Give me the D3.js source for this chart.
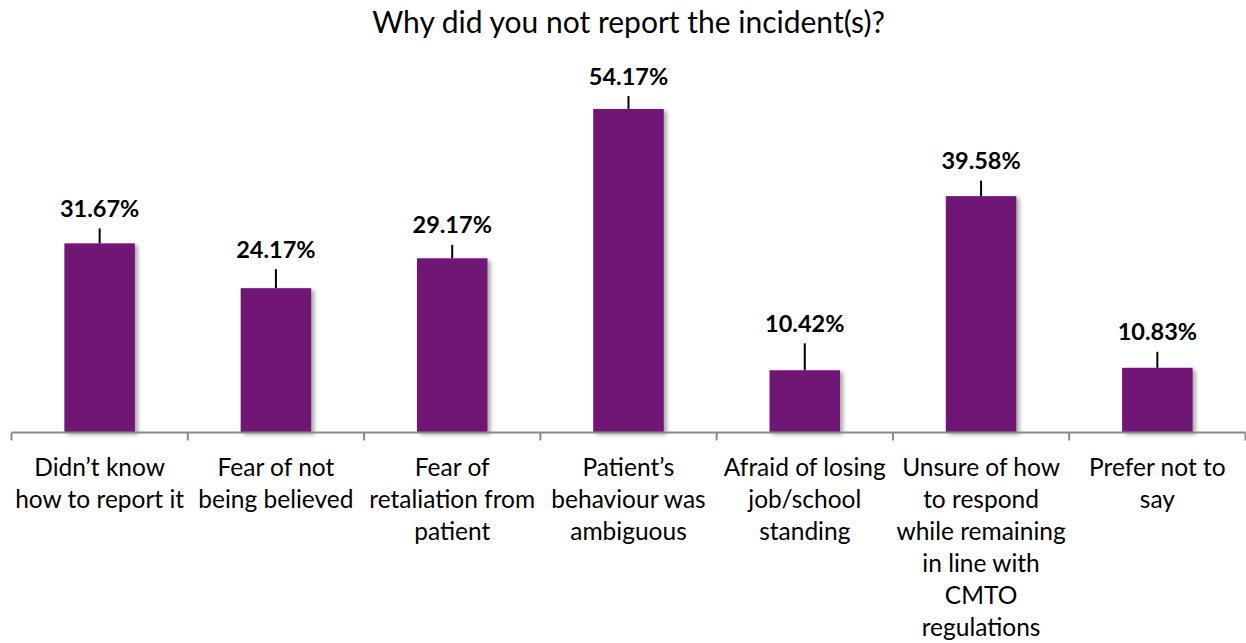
<!DOCTYPE html>
<html>
<head>
<meta charset="utf-8">
<script src="https://cdn.jsdelivr.net/npm/d3@7"></script>
<style>
  body { margin: 0; background: #ffffff; }
  svg text { font-family: Lato, "Open Sans", sans-serif; fill: #000; }
</style>
</head>
<body>
<svg id="chart" width="1246" height="643"></svg>
<script>
// Survey responses: reasons for not reporting
const categories = [
  "Didn’t know how to report it",
  "Fear of not being believed",
  "Fear of retaliation from patient",
  "Patient’s behaviour was ambiguous",
  "Afraid of losing job/school standing",
  "Unsure of how to respond while remaining in line with CMTO regulations",
  "Prefer not to say"
];
const categoryLines = [
  ["Didn’t know", "how to report it"],
  ["Fear of not", "being believed"],
  ["Fear of", "retaliation from", "patient"],
  ["Patient’s", "behaviour was", "ambiguous"],
  ["Afraid of losing", "job/school", "standing"],
  ["Unsure of how", "to respond", "while remaining", "in line with", "CMTO", "regulations"],
  ["Prefer not to", "say"]
];
const values = [31.67, 24.17, 29.17, 54.17, 10.42, 39.58, 10.83];
const valueLabels = ["31.67%", "24.17%", "29.17%", "54.17%", "10.42%", "39.58%", "10.83%"];
// length of the leader line above each bar (labels were placed by hand)
const leaderLengths = [15, 19, 13.5, 13, 27, 15.5, 16];

const title = "Why did you not report the incident(s)?";

const svg = d3.select("#chart");
const plot = { left: 11.5, right: 1245.5, top: 74.2, bottom: 432.5 };

const x = d3.scaleBand()
  .domain(categories)
  .range([plot.left, plot.right])
  .paddingInner(0.6)
  .paddingOuter(0.3);

const y = d3.scaleLinear().domain([0, 60]).range([plot.bottom, plot.top]);

// soft drop shadow under the bars
const defs = svg.append("defs");
const f = defs.append("filter").attr("id", "barShadow")
  .attr("x", "-20%").attr("y", "-10%").attr("width", "150%").attr("height", "130%");
f.append("feDropShadow")
  .attr("dx", 3).attr("dy", 2).attr("stdDeviation", 2)
  .attr("flood-color", "#000").attr("flood-opacity", 0.35);

// title
svg.append("text")
  .attr("x", (plot.left + plot.right) / 2)
  .attr("y", 33)
  .attr("text-anchor", "middle")
  .style("font-size", "30px")
  .text(title);

// bars
svg.append("g").selectAll("rect")
  .data(values)
  .join("rect")
  .attr("x", (d, i) => x(categories[i]))
  .attr("y", d => y(d))
  .attr("width", x.bandwidth())
  .attr("height", d => y(0) - y(d))
  .attr("fill", "#6f1574")
  .attr("filter", "url(#barShadow)");

// leader lines
svg.append("g").selectAll("line")
  .data(values)
  .join("line")
  .attr("x1", (d, i) => x(categories[i]) + x.bandwidth() / 2)
  .attr("x2", (d, i) => x(categories[i]) + x.bandwidth() / 2)
  .attr("y1", d => y(d))
  .attr("y2", (d, i) => y(d) - leaderLengths[i])
  .attr("stroke", "#000")
  .attr("stroke-width", 2);

// value labels
svg.append("g").selectAll("text")
  .data(values)
  .join("text")
  .attr("x", (d, i) => x(categories[i]) + x.bandwidth() / 2)
  .attr("y", (d, i) => y(d) - leaderLengths[i] - 11.5)
  .attr("text-anchor", "middle")
  .style("font-size", "23.5px")
  .style("font-weight", "bold")
  .text((d, i) => valueLabels[i]);

// category axis: boundaries between categories, tick marks below
const step = x.step();
const boundaries = d3.range(categories.length + 1).map(i => plot.left + i * step);
const axis = svg.append("g");
axis.append("line")
  .attr("x1", plot.left).attr("x2", plot.right)
  .attr("y1", plot.bottom).attr("y2", plot.bottom)
  .attr("stroke", "#898989").attr("stroke-width", 2);
axis.selectAll("line.tick")
  .data(boundaries)
  .join("line")
  .attr("class", "tick")
  .attr("x1", d => d).attr("x2", d => d)
  .attr("y1", plot.bottom).attr("y2", plot.bottom + 8)
  .attr("stroke", "#898989").attr("stroke-width", 2);

// wrapped category labels
const labels = svg.append("g").selectAll("text")
  .data(categoryLines)
  .join("text")
  .attr("text-anchor", "middle")
  .style("font-size", "24.5px");
labels.each(function (lines, i) {
  const cx = x(categories[i]) + x.bandwidth() / 2;
  d3.select(this).selectAll("tspan")
    .data(lines)
    .join("tspan")
    .attr("x", cx)
    .attr("y", (d, j) => 476 + j * 32)
    .text(d => d);
});
</script>
</body>
</html>
